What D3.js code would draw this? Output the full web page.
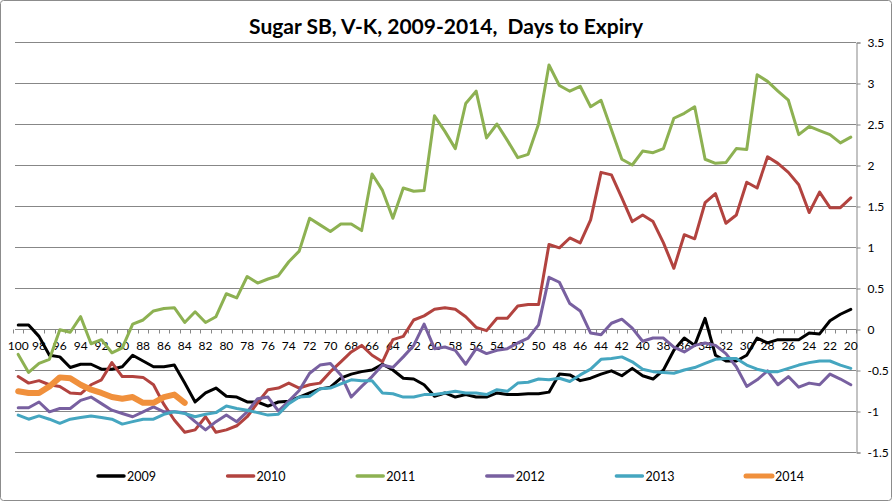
<!DOCTYPE html>
<html>
<head>
<meta charset="utf-8">
<script src="https://cdn.jsdelivr.net/npm/d3@7"></script>
<style>
  body { margin: 0; background: #fff; }
  svg { display: block; }
  text { font-family: Lato, "Liberation Sans", sans-serif; }
</style>
</head>
<body>
<script>
// days to expiry, 100 down to 20
var days = d3.range(100, 19, -1);
var yTicks = [-1.5, -1, -0.5, 0, 0.5, 1, 1.5, 2, 2.5, 3, 3.5];

var s2009 = [0.05, 0.05, -0.09, -0.32, -0.34, -0.47, -0.43, -0.43, -0.49, -0.49,
  -0.46, -0.32, -0.39, -0.46, -0.46, -0.44, -0.66, -0.89, -0.78, -0.72,
  -0.82, -0.83, -0.89, -0.89, -0.94, -0.89, -0.88, -0.83, -0.78, -0.73,
  -0.71, -0.60, -0.55, -0.52, -0.50, -0.43, -0.50, -0.60, -0.61, -0.68,
  -0.82, -0.78, -0.83, -0.80, -0.83, -0.83, -0.78, -0.80, -0.80, -0.79,
  -0.79, -0.77, -0.55, -0.56, -0.63, -0.60, -0.55, -0.51, -0.57, -0.48,
  -0.57, -0.61, -0.50, -0.26, -0.11, -0.20, 0.13, -0.32, -0.39, -0.39,
  -0.32, -0.11, -0.17, -0.13, -0.13, -0.13, -0.05, -0.06, 0.10, 0.18,
  0.24];
var s2010 = [-0.58, -0.66, -0.63, -0.68, -0.70, -0.78, -0.79, -0.68, -0.62, -0.41,
  -0.58, -0.58, -0.59, -0.68, -0.92, -1.11, -1.26, -1.23, -1.07, -1.26,
  -1.23, -1.18, -1.07, -0.90, -0.74, -0.72, -0.66, -0.72, -0.68, -0.66,
  -0.52, -0.40, -0.28, -0.20, -0.32, -0.40, -0.13, -0.09, 0.11, 0.16,
  0.24, 0.26, 0.24, 0.15, 0.02, -0.02, 0.13, 0.13, 0.28, 0.30,
  0.30, 1.03, 0.99, 1.11, 1.05, 1.33, 1.91, 1.88, 1.60, 1.31,
  1.39, 1.31, 1.05, 0.74, 1.15, 1.10, 1.54, 1.65, 1.29, 1.39,
  1.79, 1.72, 2.10, 2.02, 1.91, 1.76, 1.42, 1.67, 1.48, 1.48,
  1.60];
var s2011 = [-0.31, -0.53, -0.42, -0.37, -0.01, -0.04, 0.15, -0.18, -0.13, -0.29,
  -0.23, 0.06, 0.11, 0.22, 0.25, 0.26, 0.08, 0.21, 0.08, 0.15,
  0.43, 0.38, 0.64, 0.56, 0.61, 0.65, 0.82, 0.95, 1.35, 1.27,
  1.19, 1.28, 1.28, 1.20, 1.89, 1.69, 1.35, 1.72, 1.68, 1.69,
  2.60, 2.41, 2.20, 2.75, 2.90, 2.33, 2.50, 2.30, 2.09, 2.13,
  2.50, 3.22, 2.97, 2.90, 2.96, 2.71, 2.79, 2.43, 2.07, 2.00,
  2.17, 2.15, 2.20, 2.57, 2.63, 2.71, 2.07, 2.02, 2.03, 2.20,
  2.19, 3.10, 3.02, 2.90, 2.79, 2.37, 2.47, 2.42, 2.37, 2.27,
  2.34];
var s2012 = [-0.96, -0.96, -0.89, -1.01, -0.97, -0.97, -0.87, -0.83, -0.91, -0.99,
  -1.03, -1.07, -1.01, -0.95, -1.01, -1.01, -1.02, -1.13, -1.23, -1.13,
  -1.05, -1.13, -1.01, -0.85, -0.83, -1.00, -0.88, -0.75, -0.54, -0.44,
  -0.42, -0.56, -0.83, -0.70, -0.58, -0.44, -0.47, -0.34, -0.20, 0.06,
  -0.24, -0.22, -0.26, -0.43, -0.24, -0.30, -0.26, -0.24, -0.17, -0.11,
  0.05, 0.63, 0.57, 0.31, 0.22, -0.05, -0.07, 0.07, 0.12, 0.01,
  -0.15, -0.11, -0.11, -0.22, -0.28, -0.20, -0.17, -0.20, -0.30, -0.46,
  -0.70, -0.62, -0.51, -0.68, -0.58, -0.71, -0.66, -0.68, -0.55, -0.61,
  -0.68];
var s2013 = [-1.05, -1.10, -1.06, -1.10, -1.15, -1.10, -1.08, -1.06, -1.08, -1.10,
  -1.16, -1.13, -1.10, -1.10, -1.04, -1.01, -1.03, -1.07, -1.04, -1.02,
  -0.94, -0.97, -0.99, -1.02, -1.05, -1.04, -0.91, -0.83, -0.82, -0.73,
  -0.72, -0.67, -0.62, -0.63, -0.63, -0.78, -0.79, -0.83, -0.83, -0.80,
  -0.80, -0.78, -0.76, -0.78, -0.78, -0.80, -0.74, -0.76, -0.66, -0.65,
  -0.61, -0.62, -0.60, -0.64, -0.56, -0.49, -0.37, -0.36, -0.34, -0.40,
  -0.49, -0.52, -0.53, -0.54, -0.50, -0.47, -0.42, -0.37, -0.36, -0.36,
  -0.44, -0.49, -0.52, -0.52, -0.48, -0.44, -0.41, -0.39, -0.39, -0.44,
  -0.48];
// 2014 only runs from 100 to 84
var s2014 = [-0.76, -0.78, -0.78, -0.70, -0.59, -0.60, -0.68, -0.74, -0.78, -0.83,
  -0.85, -0.83, -0.90, -0.90, -0.83, -0.80, -0.90];

var years = ['2009', '2010', '2011', '2012', '2013', '2014'];
var values = [s2009, s2010, s2011, s2012, s2013, s2014];
var colors = ['#000000', '#B2433F', '#8DB152', '#7860A0', '#45A6C0', '#F0903C'];
var widths = [3, 3, 3, 3, 3, 6];

var W = 892, H = 501;
var svg = d3.select('body').append('svg')
  .attr('width', W)
  .attr('height', H);

// outer chart frame
svg.append('rect')
  .attr('x', 0.5).attr('y', 0.5)
  .attr('width', W - 1).attr('height', H - 1)
  .attr('rx', 3)
  .attr('fill', '#fff')
  .attr('stroke', '#8c8c8c');

svg.append('text')
  .attr('x', 446).attr('y', 34)
  .attr('text-anchor', 'middle')
  .attr('font-size', 21)
  .attr('font-weight', 'bold')
  .style('white-space', 'pre')
  .text('Sugar SB, V-K, 2009-2014,  Days to Expiry');

var x = d3.scaleBand().domain(days).range([13, 856]).padding(0);
var y = d3.scaleLinear().domain([-1.5, 3.5]).range([452, 42]);
var cx = function(d) { return x(d) + x.bandwidth() / 2; };

// horizontal gridlines
svg.append('g')
  .selectAll('line')
  .data(yTicks)
  .join('line')
  .attr('x1', 15).attr('x2', 856)
  .attr('y1', function(d) { return Math.round(y(d)) + 0.5; })
  .attr('y2', function(d) { return Math.round(y(d)) + 0.5; })
  .attr('stroke', '#878787')
  .attr('stroke-width', 1);

// right value axis
var yAxis = svg.append('g')
  .attr('transform', 'translate(856.5,0.5)')
  .call(d3.axisRight(y).tickValues(yTicks).tickSize(4).tickPadding(7)
    .tickFormat(function(d) { return String(d); }));
yAxis.select('.domain').attr('stroke', '#878787');
yAxis.selectAll('.tick line').attr('stroke', '#878787');
yAxis.selectAll('text')
  .attr('font-size', 12)
  .attr('fill', '#000')
  .style('font-family', 'Lato, "Liberation Sans", sans-serif');

// category axis sits on the zero line
var zeroY = Math.round(y(0)) + 0.5;
var boundaries = days.map(function(d) { return x(d); }).concat([x.range()[1]]);
var xg = svg.append('g');
xg.selectAll('line.tk')
  .data(boundaries)
  .join('line')
  .attr('class', 'tk')
  .attr('x1', function(d) { return Math.round(d) + 0.5; })
  .attr('x2', function(d) { return Math.round(d) + 0.5; })
  .attr('y1', zeroY).attr('y2', zeroY + 4)
  .attr('stroke', '#878787');
xg.selectAll('text')
  .data(days.filter(function(d) { return d % 2 === 0; }))
  .join('text')
  .attr('x', cx)
  .attr('y', zeroY + 20)
  .attr('text-anchor', 'middle')
  .attr('font-size', 12)
  .text(function(d) { return d; });

// series lines
var line = d3.line()
  .x(function(d) { return cx(d[0]); })
  .y(function(d) { return y(d[1]); });

var series = years.map(function(yr, i) {
  return {
    year: yr,
    color: colors[i],
    width: widths[i],
    pts: values[i].map(function(v, j) { return [days[j], v]; })
  };
});

svg.append('g')
  .selectAll('path')
  .data(series)
  .join('path')
  .attr('d', function(s) { return line(s.pts); })
  .attr('fill', 'none')
  .attr('stroke', function(s) { return s.color; })
  .attr('stroke-width', function(s) { return s.width; })
  .attr('stroke-linejoin', 'round')
  .attr('stroke-linecap', 'round');

// legend
var lg = svg.append('g').selectAll('g')
  .data(series)
  .join('g')
  .attr('transform', function(s, i) { return 'translate(' + (98 + i * 129.6) + ',476)'; });
lg.append('line')
  .attr('x1', 0).attr('x2', 26)
  .attr('stroke', function(s) { return s.color; })
  .attr('stroke-width', function(s) { return s.width === 6 ? 5 : 3.5; })
  .attr('stroke-linecap', 'round');
lg.append('text')
  .attr('x', 29).attr('y', 4.5)
  .attr('font-size', 12.5)
  .text(function(s) { return s.year; });
</script>
</body>
</html>
